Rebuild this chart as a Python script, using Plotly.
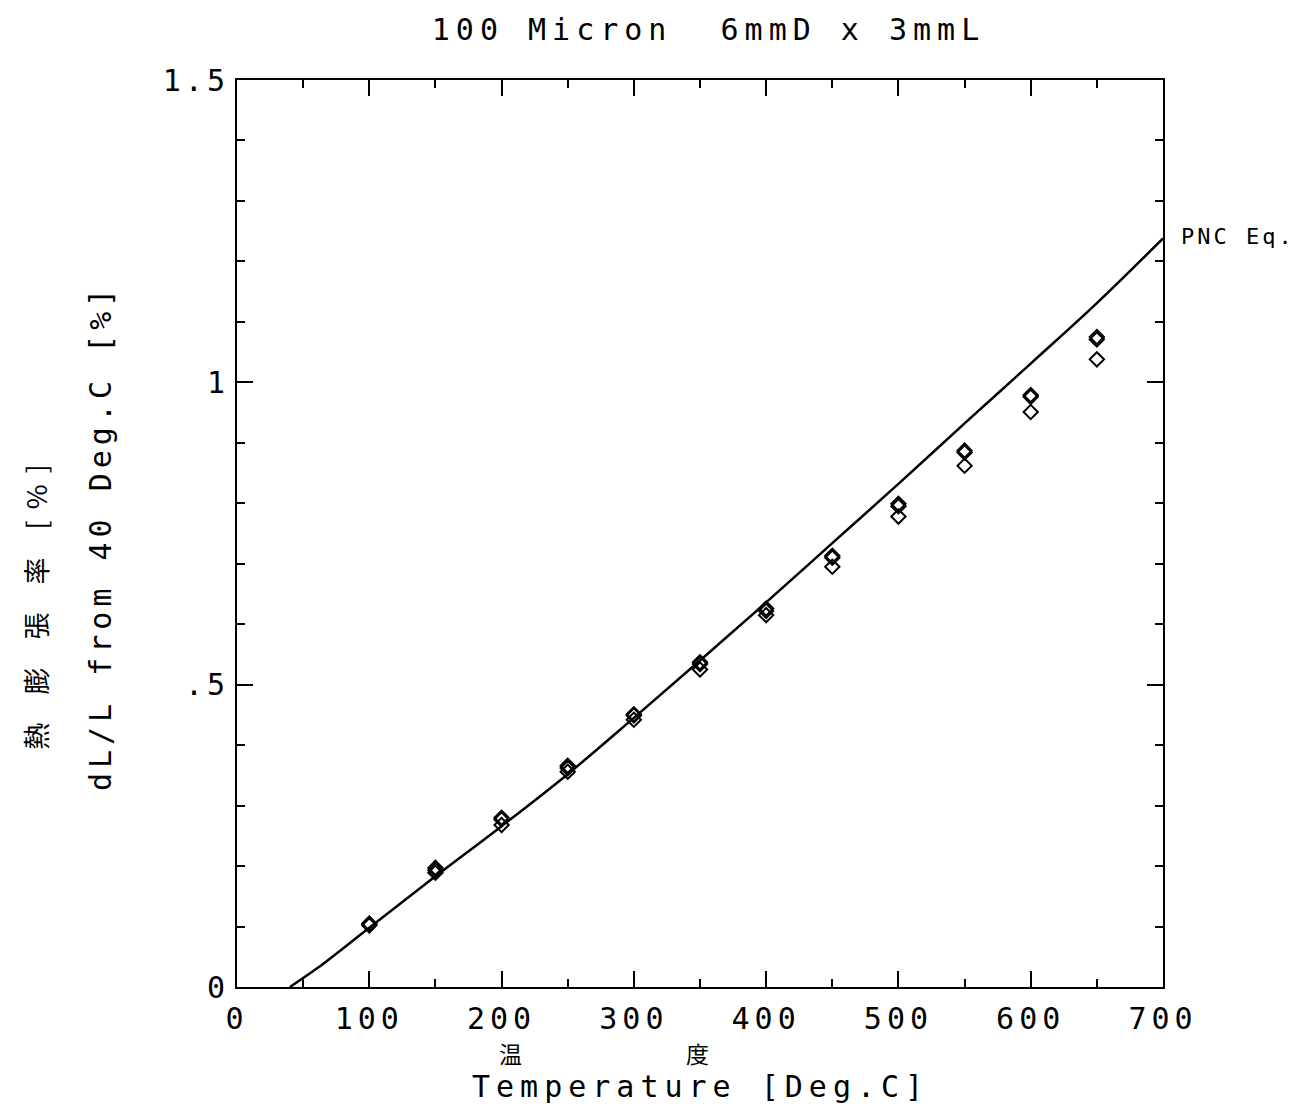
import plotly.graph_objects as go

# Measured thermal expansion of 100 micron pellets (6mmD x 3mmL)
temperature = [100, 150, 200, 250, 300, 350, 400, 450, 500, 550, 600, 650]
run_1 = [0.105, 0.197, 0.280, 0.366, 0.451, 0.537, 0.626, 0.713, 0.799, 0.887, 0.979, 1.075]
run_2 = [0.102, 0.193, 0.277, 0.362, 0.449, 0.534, 0.622, 0.710, 0.795, 0.884, 0.976, 1.071]
run_3 = [0.103, 0.189, 0.268, 0.356, 0.442, 0.525, 0.615, 0.695, 0.778, 0.862, 0.951, 1.038]

# PNC equation curve (dL/L from 40 Deg.C)
pnc_temp = [40, 60, 100, 150, 200, 250, 300, 350, 400, 450, 500, 550, 600, 650, 700]
pnc_val = [0.0, 0.030, 0.098, 0.183, 0.266, 0.352, 0.445, 0.540, 0.636, 0.734, 0.832, 0.932, 1.031, 1.131, 1.238]

x_ticks = [0, 100, 200, 300, 400, 500, 600, 700]
y_ticks = [0, 0.5, 1.0, 1.5]
y_tick_text = ["0", ".5", "1", "1.5"]

MONO = "DejaVu Sans Mono"
CJK = "Noto Sans CJK JP"


def spaced(s, px):
    return f'<span style="letter-spacing:{px}px">{s}</span>'


fig = go.Figure()

fig.add_trace(go.Scatter(
    x=pnc_temp, y=pnc_val, mode="lines", line=dict(color="black", width=2.5, shape="spline"),
    showlegend=False, hoverinfo="skip"))

for run in (run_1, run_2, run_3):
    fig.add_trace(go.Scatter(
        x=temperature, y=run, mode="markers",
        marker=dict(symbol="diamond-open", size=11, color="black", line=dict(width=2, color="black")),
        showlegend=False))

axis_common = dict(
    showline=True, linecolor="black", linewidth=2, mirror="ticks",
    ticks="inside", tickcolor="black", tickwidth=2,
    showgrid=False, zeroline=False,
    tickfont=dict(family=MONO, size=30, color="black"),
)

fig.update_xaxes(
    range=[0, 700], tickvals=x_ticks, ticktext=[spaced(str(v), 5) for v in x_ticks],
    ticklen=16, minor=dict(dtick=50, ticks="inside", ticklen=8, tickcolor="black", tickwidth=2),
    ticklabelstandoff=4, **axis_common)
fig.update_yaxes(
    range=[0, 1.5], tickvals=y_ticks, ticktext=[spaced(t, 4) for t in y_tick_text],
    ticklen=16, minor=dict(dtick=0.1, ticks="inside", ticklen=8, tickcolor="black", tickwidth=2),
    ticklabelstandoff=0, **axis_common)

annotations = [
    dict(text=spaced("Temperature [Deg.C]", 6), x=0.5, y=-0.11, xref="paper", yref="paper",
         showarrow=False, font=dict(family=MONO, size=30, color="black"), xanchor="center", yanchor="middle"),
    dict(text="温", x=0.295, y=-0.073, xref="paper", yref="paper", showarrow=False,
         font=dict(family=CJK, size=23, color="black"), xanchor="center", yanchor="middle"),
    dict(text="度", x=0.497, y=-0.073, xref="paper", yref="paper", showarrow=False,
         font=dict(family=CJK, size=23, color="black"), xanchor="center", yanchor="middle"),
    dict(text=spaced("dL/L from 40 Deg.C [%]", 5), x=-0.148, y=0.496, xref="paper", yref="paper",
         textangle=-90, showarrow=False, font=dict(family=MONO, size=30, color="black"),
         xanchor="center", yanchor="middle"),
    dict(text=spaced("熱 膨 張 率 [%]", 11), x=-0.218, y=0.425, xref="paper", yref="paper",
         textangle=-90, showarrow=False, font=dict(family=CJK, size=27, color="black"),
         xanchor="center", yanchor="middle"),
    dict(text=spaced("PNC Eq.", 3), x=pnc_temp[-1], y=pnc_val[-1], xref="x", yref="y",
         showarrow=False, font=dict(family=MONO, size=22, color="black"),
         xanchor="left", yanchor="middle", xshift=16, yshift=2),
]

fig.update_layout(
    width=1300, height=1106,
    margin=dict(l=237, r=137, t=80, b=119),
    paper_bgcolor="white", plot_bgcolor="white",
    title=dict(text=spaced("100 Micron  6mmD x 3mmL", 6), x=0.545, xref="container", xanchor="center",
               y=0.973, yref="container", yanchor="middle",
               font=dict(family=MONO, size=30, color="black")),
    annotations=annotations,
)

fig.write_html("out.html")
